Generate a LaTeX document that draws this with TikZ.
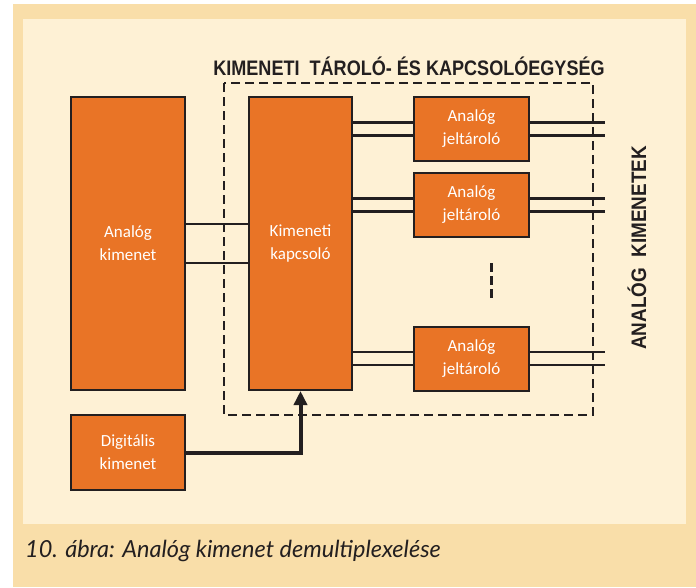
\documentclass[tikz,border=0pt]{standalone}
\usepackage{fontspec}
\setmainfont{Carlito}
\newfontfamily\headfont{Liberation Sans}
\newfontfamily\capfont{Lato}
\usetikzlibrary{arrows.meta}
\definecolor{tan}{HTML}{F9DEA9}
\definecolor{cream}{HTML}{FEF1D5}
\definecolor{blockorange}{HTML}{E97426}
\definecolor{ink}{HTML}{231F20}
\tikzset{
  block/.style={draw=ink, line width=2pt, fill=blockorange, text=white,
    font=\fontsize{17}{23}\selectfont, align=center, inner sep=0pt},
  wire/.style={draw=ink, line width=2.2pt},
  heading/.style={font=\headfont\bfseries\fontsize{21}{24}\selectfont, text=ink, inner sep=0pt}
}
\begin{document}
\begin{tikzpicture}[x=1pt, y=-1pt]
        \useasboundingbox (0,0) rectangle (696,587);
        % Frame
        \fill[tan] (13,4) rectangle (696,587);
        \fill[cream] (23,19) rectangle (686,524);
        \node[font=\capfont\itshape\fontsize{23.5}{26}\selectfont, text=ink, anchor=west, inner sep=0pt] (caption) at (25,551) {10. ábra: Analóg kimenet demultiplexelése};

        % Storage and switching unit
        \draw[ink, line width=2.8pt, dash pattern=on 9pt off 5pt] (224,83) rectangle (593,415);
        \node[heading, xscale=0.86] (unit) at (409,66) {KIMENETI\ \ TÁROLÓ- ÉS KAPCSOLÓEGYSÉG};

        % Blocks
        \node[block, minimum width=114pt, minimum height=293pt] (ak) at (128,243.5) {Analóg\\kimenet};
        \node[block, minimum width=103pt, minimum height=293pt] (ks) at (300.5,243.5) {Kimeneti\\kapcsoló};
        \node[block, minimum width=114pt, minimum height=75pt] (dig) at (128,452.5) {Digitális\\kimenet};

        % Lines between analog output and switch
        \draw[wire] (ak.east |- 0,224) -- (ks.west |- 0,224);
        \draw[wire] (ak.east |- 0,263) -- (ks.west |- 0,263);

        % Latches
        \foreach \n/\y in {1/129, 2/205, 3/358.5} {
          \node[block, minimum width=115pt, minimum height=64pt] (j\n) at (471.5,\y) {Analóg\\jeltároló};
          \coordinate (o\n) at (605,\y);
          \draw[wire] ([yshift=-6.5pt]ks.east |- j\n) -- ([yshift=-6.5pt]j\n.west);
          \draw[wire] ([yshift=6.5pt]ks.east |- j\n) -- ([yshift=6.5pt]j\n.west);
          \draw[wire] ([yshift=-6.5pt]j\n.east) -- ([yshift=-6.5pt]o\n);
          \draw[wire] ([yshift=6.5pt]j\n.east) -- ([yshift=6.5pt]o\n);
        }

        % Omitted latches
        \coordinate (gaptop) at (491,263);
        \coordinate (gapbot) at (491,300);
        \draw[ink, line width=3pt, dash pattern=on 9pt off 4pt] (gaptop) -- (gapbot);

        % Control arrow
        \draw[ink, line width=4pt, -{Triangle[length=14pt, width=13pt]}] (dig.east) -| (ks.south);

        \node[heading, rotate=90, xscale=0.9] (outs) at (637,248) {ANALÓG\ \ KIMENETEK};
\end{tikzpicture}
\end{document}
